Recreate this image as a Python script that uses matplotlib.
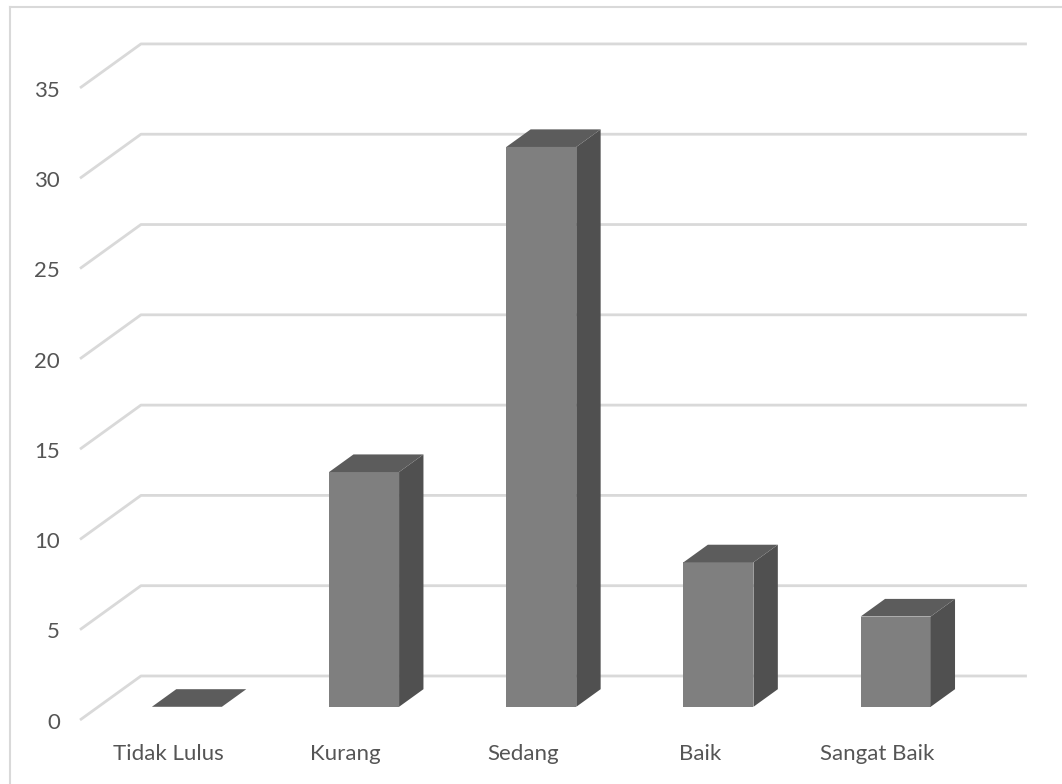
import matplotlib
matplotlib.use("Agg")
import matplotlib.pyplot as plt
from matplotlib.patches import Polygon
from matplotlib.lines import Line2D

# Data
categories = ["Tidak Lulus", "Kurang", "Sedang", "Baik", "Sangat Baik"]
values = [0, 13, 31, 8, 5]
y_ticks = [0, 5, 10, 15, 20, 25, 30, 35]

# Oblique 3D projection parameters (data units)
DEPTH_X = 0.344      # horizontal shift from front plane to back wall (categories)
DEPTH_Y = 2.437      # vertical shift from front plane to back wall (value units)
BAR_HALF = 0.1975    # half bar width in category units
BAR_FRONT = 0.3      # bar front face, fraction of depth
BAR_BACK = 0.7       # bar back face, fraction of depth

FRONT_COL = "#7f7f7f"
TOP_COL = "#5c5c5c"
SIDE_COL = "#505050"
GRID_COL = "#d9d9d9"
TEXT_COL = "#555555"

plt.rcParams["font.family"] = ["Lato", "DejaVu Sans"]

W, H, DPI = 1062, 784, 100
fig = plt.figure(figsize=(W / DPI, H / DPI), dpi=DPI)
ax = fig.add_axes([0, 0, 1, 1])
ax.set_xlim(-0.4515, 5.542)
ax.set_ylim(-3.544, 39.87)
ax.axis("off")


def shift(x, y, f):
    return (x + f * DEPTH_X, y + f * DEPTH_Y)


# Gridlines: side wall diagonal + back wall horizontal
n = len(categories)
for v in y_ticks:
    x0, y0 = 0, v
    x1, y1 = shift(0, v, 1.0)
    ax.plot([x0, x1, n + DEPTH_X], [y0, y1, y1], color=GRID_COL, lw=2,
            solid_capstyle="butt", zorder=1)
    ax.text(-0.113, v - 0.15, str(v), ha="right", va="center", fontsize=16,
            color=TEXT_COL)

# Bars
for i, (cat, val) in enumerate(zip(categories, values)):
    c = i + 0.5
    xl, xr = c - BAR_HALF, c + BAR_HALF
    FL0 = shift(xl, 0, BAR_FRONT)
    FR0 = shift(xr, 0, BAR_FRONT)
    FL1, FR1 = (FL0[0], FL0[1] + val), (FR0[0], FR0[1] + val)
    d = BAR_BACK - BAR_FRONT
    BL1 = (FL1[0] + d * DEPTH_X, FL1[1] + d * DEPTH_Y)
    BR1 = (FR1[0] + d * DEPTH_X, FR1[1] + d * DEPTH_Y)
    BR0 = (FR0[0] + d * DEPTH_X, FR0[1] + d * DEPTH_Y)
    if val > 0:
        ax.add_patch(Polygon([FL0, FR0, FR1, FL1], closed=True,
                             facecolor=FRONT_COL, edgecolor="none", zorder=3))
        ax.add_patch(Polygon([FR0, BR0, BR1, FR1], closed=True,
                             facecolor=SIDE_COL, edgecolor="none", zorder=3))
    ax.add_patch(Polygon([FL1, FR1, BR1, BL1], closed=True,
                         facecolor=TOP_COL, edgecolor="none", zorder=3))
    ax.text(c, -1.9, cat, ha="center", va="center", fontsize=16,
            color=TEXT_COL)

# Chart area border
fig.add_artist(Line2D([9.5 / W, 9.5 / W], [0, 1 - 6.5 / H], color=GRID_COL,
                      lw=1.5, transform=fig.transFigure))
fig.add_artist(Line2D([9.5 / W, 1], [1 - 6.5 / H, 1 - 6.5 / H], color=GRID_COL,
                      lw=1.5, transform=fig.transFigure))

fig.savefig("out.png", dpi=DPI, facecolor="white")
